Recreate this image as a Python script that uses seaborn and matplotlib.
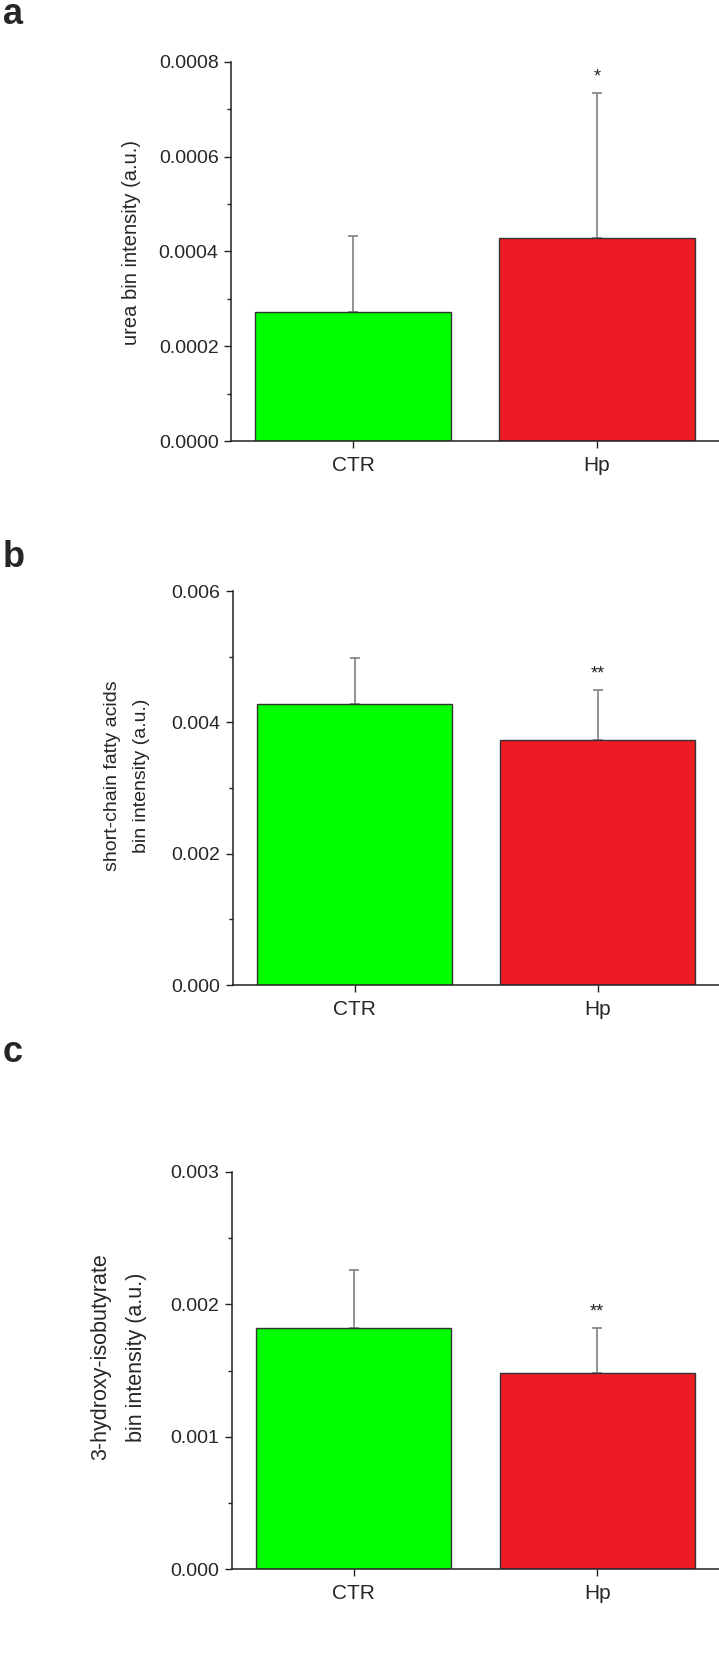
import numpy as np
import pandas as pd
import seaborn as sns
import matplotlib
matplotlib.use("Agg")
import matplotlib.pyplot as plt
from matplotlib.ticker import AutoMinorLocator, FormatStrFormatter, MultipleLocator

# values (mean and upper SD)
groups = ["CTR", "Hp"]

urea_mean = [0.000273, 0.000429]
urea_sd = [0.000159, 0.000305]

scfa_mean = [0.00428, 0.00373]
scfa_sd = [0.00070, 0.00076]

hib_mean = [0.00182, 0.00148]
hib_sd = [0.00044, 0.00034]

stars = ["", "*"], ["", "**"], ["", "**"]

sns.set_style("ticks")
plt.rcParams["font.family"] = ["Liberation Sans", "DejaVu Sans"]

bar_colors = {"CTR": "#00ff00", "Hp": "#ed1c24"}

fig = plt.figure(figsize=(7.19, 16.53), dpi=100)

panels = [
    dict(rect=[231/719, 1-441/1653, 488/719, 379/1653], mean=urea_mean, sd=urea_sd,
         ymax=0.0008, step=0.0002, fmt="%.4f", label="urea bin intensity (a.u.)",
         fs=14.5, lx=-0.184, lyc=0.525, letter="a", ly=1-24/1653, star=stars[0]),
    dict(rect=[233/719, 1-985/1653, 486/719, 394/1653], mean=scfa_mean, sd=scfa_sd,
         ymax=0.006, step=0.002, fmt="%.3f", label="short-chain fatty acids\nbin intensity (a.u.)",
         fs=14, lx=-0.171, lyc=0.53, letter="b", ly=1-567/1653, star=stars[1]),
    dict(rect=[232/719, 1-1569/1653, 487/719, 397/1653], mean=hib_mean, sd=hib_sd,
         ymax=0.003, step=0.001, fmt="%.3f", label="3-hydroxy-isobutyrate\nbin intensity (a.u.)",
         fs=15.5, lx=-0.175, lyc=0.534, letter="c", ly=1-1062/1653, star=stars[2]),
]

for p in panels:
    ax = fig.add_axes(p["rect"])
    df = pd.DataFrame({"group": groups, "value": p["mean"]})
    sns.barplot(data=df, x="group", y="value", hue="group", palette=bar_colors,
                saturation=1, legend=False, errorbar=None, width=0.8,
                edgecolor="#333333", linewidth=1.0, ax=ax, zorder=2)
    xs = np.arange(len(groups))
    ax.errorbar(xs, p["mean"], yerr=[np.zeros(len(groups)), p["sd"]], fmt="none",
                ecolor="#808080", elinewidth=1.2, capsize=3.6, capthick=1.2, zorder=1)
    for x, m, s, st in zip(xs, p["mean"], p["sd"], p["star"]):
        if st:
            ax.annotate(st, (x, m + s), xytext=(0, 11.5), textcoords="offset points",
                        ha="center", va="center", fontsize=13, color="#222222")
    ax.set_xlim(-0.5, 1.5)
    ax.set_ylim(0, p["ymax"])
    ax.yaxis.set_major_locator(MultipleLocator(p["step"]))
    ax.yaxis.set_minor_locator(AutoMinorLocator(2))
    ax.yaxis.set_major_formatter(FormatStrFormatter(p["fmt"]))
    ax.set_xlabel("")
    ax.set_ylabel(p["label"], fontsize=p["fs"], linespacing=1.9)
    ax.yaxis.set_label_coords(p["lx"], p["lyc"])
    sns.despine(ax=ax)
    for side in ["left", "bottom"]:
        ax.spines[side].set_color("#222222")
        ax.spines[side].set_linewidth(1.1)
    ax.tick_params(axis="y", which="major", length=5, width=1.0, color="#222222",
                   labelsize=14, pad=4)
    ax.tick_params(axis="y", which="minor", length=3, width=1.0, color="#222222")
    ax.tick_params(axis="x", length=5, width=1.0, color="#222222", labelsize=15, pad=6)
    fig.text(0.004, p["ly"], p["letter"], fontsize=26, fontweight="bold", va="baseline")

fig.savefig("out.png", dpi=100)
